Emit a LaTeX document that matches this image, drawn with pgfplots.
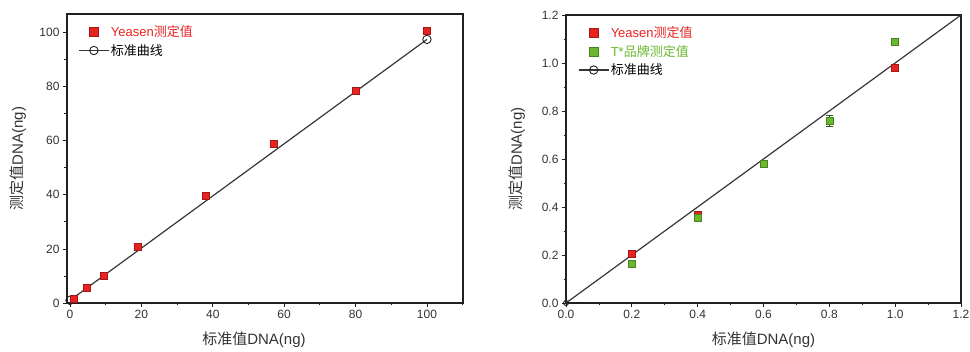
\documentclass[border=0pt]{standalone}
\usepackage{pgfplots}
\pgfplotsset{compat=1.18}
\usepackage{fontspec}
\setmainfont{Liberation Sans}
\newfontfamily\cjk{Noto Sans CJK SC}
\definecolor{yred}{HTML}{E8231F}
\definecolor{tgreen}{HTML}{6AB82E}
\definecolor{axc}{HTML}{231F20}
\definecolor{tkc}{HTML}{333333}
\begin{document}
\begin{tikzpicture}
\useasboundingbox (0pt,0pt) rectangle (970pt,352pt);
\pgfplotsset{
  common/.style={
    scale only axis,
    axis line style={axc, line width=1.3pt},
    tick style={axc, line width=0.8pt},
    tick align=outside,
    major tick length=4pt, minor tick length=2.5pt,
    xtick pos=bottom, ytick pos=left,
    /pgf/number format/assume math mode=true,
    ticklabel style={font=\fontsize{12}{13}\selectfont, text=tkc},
    every axis x label/.style={at={(axis description cs:0.5,0)}, anchor=center, yshift=-37pt, font=\fontsize{15}{17}\selectfont, text=tkc},
    every axis y label/.style={at={(axis description cs:0,0.5)}, anchor=center, rotate=90, yshift=49pt, font=\fontsize{15}{17}\selectfont, text=tkc},
    legend cell align=left,
    legend style={draw=none, fill=none, font=\fontsize{13}{15}\selectfont, row sep=3pt, inner sep=0pt, nodes={inner sep=1.5pt}},
    clip=false,
  },
  sqmark/.style={only marks, mark=square*, mark size=3.5pt, mark options={draw=#1!70!black, fill=#1, line width=0.4pt},
    legend image code/.code={\draw[mark repeat=2,mark phase=2,##1, mark size=4.5pt] plot coordinates {(0pt,0pt)(15pt,0pt)(30pt,0pt)};}},
  stdline/.style={color=axc!90, line width=1.2pt, mark=o, mark size=4.2pt, mark options={fill=white, line width=0.9pt, draw=axc},
    legend image code/.code={\draw[mark repeat=2,mark phase=2,##1] plot coordinates {(0pt,0pt)(15pt,0pt)(30pt,0pt)};}},
}
% ---------- left ----------
\begin{axis}[common,
  at={(67pt,49pt)}, anchor=south west, width=396pt, height=289pt,
  xmin=-0.84, xmax=110.1, ymin=0, ymax=106.9,
  xtick={0,20,...,100}, ytick={0,20,...,100},
  minor xtick={10,30,50,70,90,110}, minor ytick={10,30,50,70,90},
  xlabel={{\cjk 标准值}DNA(ng)}, ylabel={{\cjk 测定值}DNA(ng)},
  xlabel style={xshift=-11pt},
  legend style={at={(axis description cs:0.028,0.965)}, anchor=north west},
]
\addplot[stdline, forget plot] coordinates {(0,1.0) (100,97.5)};
\addplot[sqmark=yred, error bars/.cd, y dir=both, y explicit, error bar style={yred!70!black, line width=0.4pt}]
 coordinates {(1,1.6) +- (0,0.5) (4.7,5.5) +- (0,0.4) (9.4,10.1) +- (0,0.4) (19,21) +- (0,0.4) (38,39.7) +- (0,0.4) (57,59) +- (0,0.4) (80,78.6) +- (0,0.4) (100,100.6) +- (0,0.5)};
\addlegendimage{stdline}
\legend{\textcolor{yred}{Yeasen{\cjk 测定值}}, {\cjk 标准曲线}}
\end{axis}
% ---------- right ----------
\begin{axis}[common,
  at={(566pt,49pt)}, anchor=south west, width=395pt, height=288pt,
  xmin=0, xmax=1.2, ymin=0, ymax=1.2,
  xtick={0,0.2,...,1.2}, ytick={0,0.2,...,1.2},
  minor xtick={0.1,0.3,0.5,0.7,0.9,1.1}, minor ytick={0.1,0.3,0.5,0.7,0.9,1.1},
  xticklabel style={/pgf/number format/.cd, fixed, fixed zerofill, precision=1},
  yticklabel style={/pgf/number format/.cd, fixed, fixed zerofill, precision=1},
  xlabel={{\cjk 标准值}DNA(ng)}, ylabel={{\cjk 测定值}DNA(ng)},
  legend style={at={(axis description cs:0.03,0.965)}, anchor=north west},
]
\addplot[stdline, mark size=2.5pt, mark indices={1}, forget plot] coordinates {(0,0) (1.2,1.2)};
\addplot[sqmark=yred, error bars/.cd, y dir=both, y explicit, error bar style={yred!70!black, line width=0.4pt}]
 coordinates {(0.2,0.205) +- (0,0.006) (0.4,0.367) +- (0,0.006) (0.6,0.58) +- (0,0.006) (0.8,0.758) +- (0,0.006) (1.0,0.98) +- (0,0.006)};
\addplot[sqmark=tgreen, error bars/.cd, y dir=both, y explicit, error bar style={tgreen!45!black, line width=0.5pt}]
 coordinates {(0.2,0.165) +- (0,0.006) (0.4,0.356) +- (0,0.008) (0.6,0.58) +- (0,0.006) (0.8,0.76) +- (0,0.022) (1.0,1.09) +- (0,0.006)};
\addlegendimage{stdline}
\legend{\textcolor{yred}{Yeasen{\cjk 测定值}}, \textcolor{tgreen}{T*{\cjk 品牌测定值}}, {\cjk 标准曲线}}
\end{axis}
\end{tikzpicture}
\end{document}
